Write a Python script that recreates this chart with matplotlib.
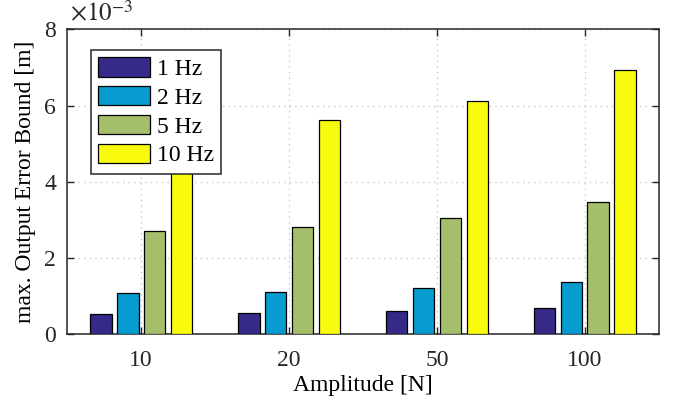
import numpy as np
import matplotlib.pyplot as plt
from matplotlib.ticker import FixedLocator, FuncFormatter

# Output error bound per excitation amplitude, values in units of 1e-3 m
amplitudes = ['10', '20', '50', '100']
series_labels = ['1 Hz', '2 Hz', '5 Hz', '10 Hz']
bound_1hz = [0.54, 0.56, 0.61, 0.69]
bound_2hz = [1.09, 1.12, 1.22, 1.38]
bound_5hz = [2.72, 2.81, 3.06, 3.47]
bound_10hz = [5.42, 5.62, 6.12, 6.94]

# parula(4) colours
colors = ['#352a87', '#079cd0', '#a5be6b', '#f9fb0e']

plt.rcParams['font.family'] = ['Liberation Serif', 'DejaVu Serif']
plt.rcParams['mathtext.fontset'] = 'stix'
plt.rcParams['font.size'] = 17

fig = plt.figure(figsize=(6.75, 4.05), dpi=100)
ax = fig.add_axes([0.0997, 0.1746, 0.8762, 0.7526])

series = [bound_1hz, bound_2hz, bound_5hz, bound_10hz]
x = np.arange(1, len(amplitudes) + 1)
n = len(series)
group_width = min(0.8, n / (n + 1.5))
bar_width = group_width / n * 0.8
for i, (vals, lab, c) in enumerate(zip(series, series_labels, colors)):
    offset = (i - (n - 1) / 2) * group_width / n
    ax.bar(x + offset, np.array(vals) * 1e-3, width=bar_width, color=c,
           edgecolor='black', linewidth=0.9, label=lab, zorder=3)

ax.set_xlim(0.5, 4.5)
ax.set_ylim(0, 8e-3)
ax.set_xticks(x)
ax.set_xticklabels(amplitudes)
ax.yaxis.set_major_locator(FixedLocator(np.arange(0, 9, 2) * 1e-3))
ax.yaxis.set_major_formatter(FuncFormatter(lambda v, p: f'{v * 1e3:g}'))
ax.text(0.005, 1.01, r'$\times10^{\mathrm{-3}}$', transform=ax.transAxes,
        ha='left', va='bottom', fontsize=18, color='#262626')

ax.set_xlabel('Amplitude [N]', labelpad=3)
ax.set_ylabel('max. Output Error Bound [m]', labelpad=6)

ax.tick_params(axis='x', pad=11)
ax.tick_params(axis='y', pad=8)
ax.tick_params(direction='in', length=5, width=1, top=True, right=True,
               colors='#262626', labelcolor='#262626')
for s in ax.spines.values():
    s.set_color('#262626')
    s.set_linewidth(1.1)
ax.grid(True, linestyle=(0, (1, 3)), color='#c8c8c8', linewidth=1.0, zorder=0)
ax.set_axisbelow(True)

leg = ax.legend(loc='upper left', bbox_to_anchor=(0.040, 0.933), borderaxespad=0,
                fancybox=False, framealpha=1, edgecolor='#262626',
                handlelength=2.2, handleheight=0.9, labelspacing=0.25,
                handletextpad=0.3, borderpad=0.3, fontsize=17)
leg.get_frame().set_linewidth(1.1)

fig.savefig('out.png', dpi=100)
